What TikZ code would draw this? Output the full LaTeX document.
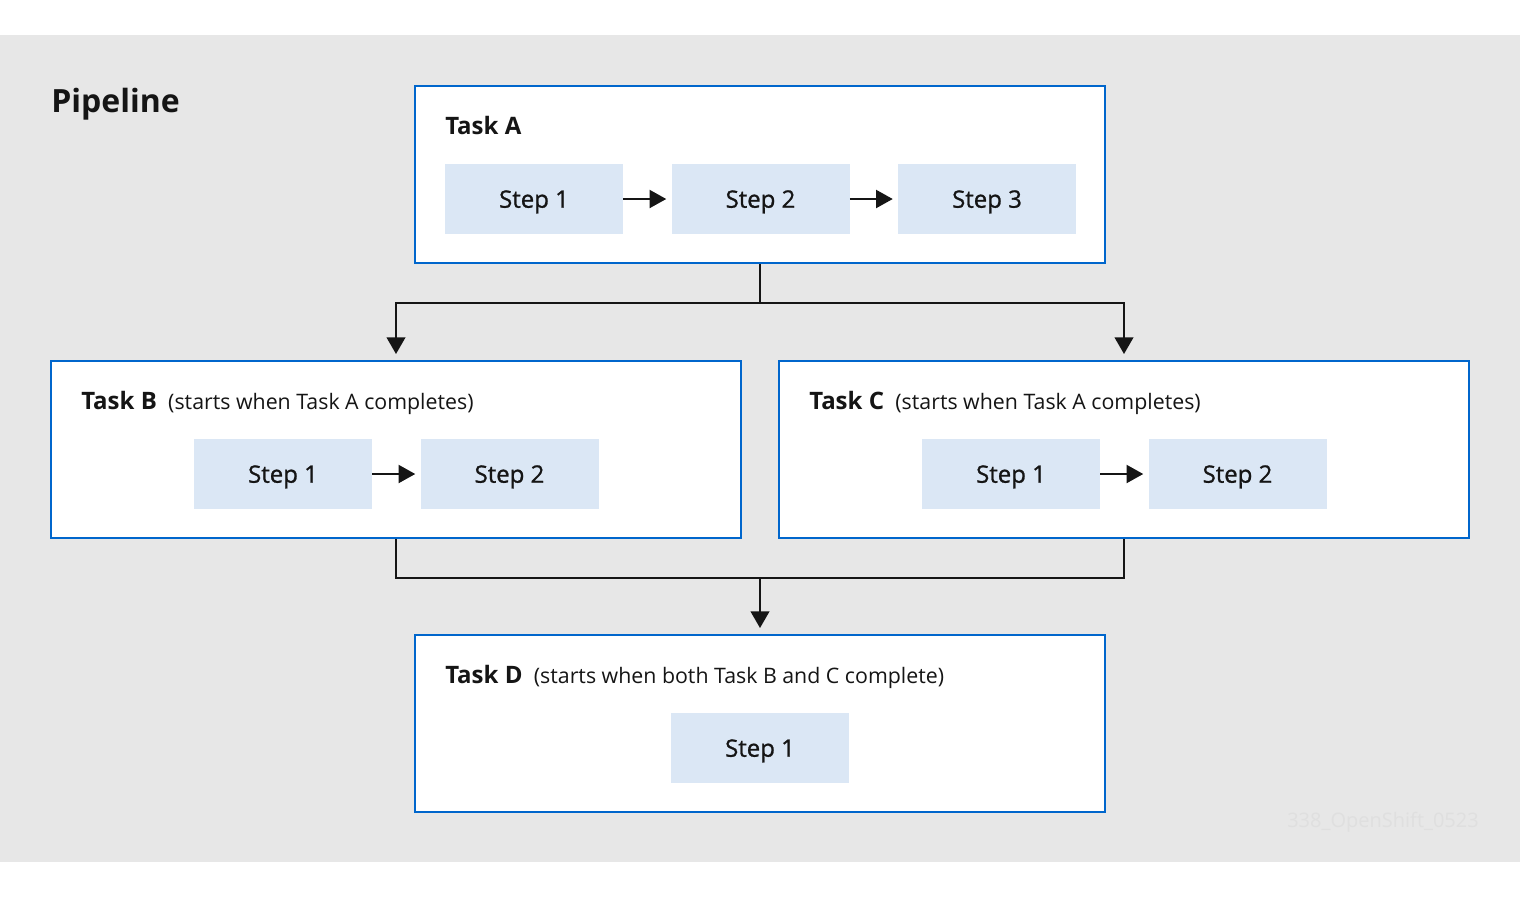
\documentclass[tikz,border=0pt]{standalone}
\usepackage{fontspec}
\usepackage{tikz}
\usetikzlibrary{arrows.meta}
\setmainfont{Open Sans}
\definecolor{bggray}{RGB}{231,231,231}
\definecolor{taskblue}{RGB}{0,102,204}
\definecolor{steplight}{RGB}{219,231,245}
\definecolor{inkblack}{RGB}{21,21,21}
\definecolor{markgray}{RGB}{223,223,223}
\newcommand{\taskname}[1]{{\fontsize{18}{21}\selectfont\bfseries #1}}

\begin{document}
\begin{tikzpicture}[x=0.75pt,y=0.75pt,yscale=-1,xscale=1,
  taskbox/.style={draw=taskblue,line width=1.5pt,fill=white,minimum width=517.5pt,minimum height=132.75pt,inner sep=0pt},
  stepbox/.style={fill=steplight,minimum width=133.5pt,minimum height=52.5pt,inner sep=0pt,text depth=0pt,text=inkblack,font=\fontsize{18}{21}\selectfont\addfontfeature{FakeBold=1}},
  tasklabel/.style={anchor=base west,inner sep=0pt,text=inkblack,font=\fontsize{16}{19}\selectfont},
  link/.style={draw=inkblack,line width=1.5pt},
  flow/.style={link,-{Triangle[length=12.5pt,width=14pt]},shorten >=4.5pt},
  stepflow/.style={link,-{Triangle[length=12.5pt,width=13.5pt]},shorten >=3.75pt}]
\useasboundingbox (0,0) rectangle (1520,904);
%Shape: Rectangle [background]
\fill[bggray] (0,35) rectangle (1520,862);

% Text Node
\node[anchor=base west,inner sep=0pt,text=inkblack,font=\fontsize{24}{28}\selectfont\bfseries] (pipeline) at (51,112) {Pipeline};

%Shape: Task boxes
\node[taskbox] (taskA) at (760,174.5) {};
\node[taskbox] (taskB) at (396,449.5) {};
\node[taskbox] (taskC) at (1124,449.5) {};
\node[taskbox] (taskD) at (760,723.5) {};

% Text Node
\node[tasklabel] (labelA) at (445,134.5) {\taskname{Task A}};
\node[tasklabel] (labelB) at (81,409) {\taskname{Task B}\hspace{8.5pt}(starts when Task A completes)};
\node[tasklabel] (labelC) at (809,409) {\taskname{Task C}\hspace{8.5pt}(starts when Task A completes)};
\node[tasklabel] (labelD) at (445,683) {\taskname{Task D}\hspace{8.5pt}(starts when both Task B and C complete)};

%Shape: Step boxes
\node[stepbox] (stepA1) at (534,199) {Step 1};
\node[stepbox] (stepA2) at (760.5,199) {Step 2};
\node[stepbox] (stepA3) at (987,199) {Step 3};
\node[stepbox] (stepB1) at (283,474) {Step 1};
\node[stepbox] (stepB2) at (509.5,474) {Step 2};
\node[stepbox] (stepC1) at (1011,474) {Step 1};
\node[stepbox] (stepC2) at (1237.5,474) {Step 2};
\node[stepbox] (stepD1) at (760,748) {Step 1};

%Straight Lines [steps]
\draw[stepflow] (stepA1) -- (stepA2);
\draw[stepflow] (stepA2) -- (stepA3);
\draw[stepflow] (stepB1) -- (stepB2);
\draw[stepflow] (stepC1) -- (stepC2);

%Straight Lines [tasks]
\coordinate (splitA) at (760,303);
\coordinate (joinD) at (760,578);
\draw[link] (taskA.south) -- (splitA);
\draw[flow] (splitA) -| (taskB.north);
\draw[flow] (splitA) -| (taskC.north);
\draw[link] (taskB.south) |- (joinD) -| (taskC.south);
\draw[flow] (joinD) -- (taskD.north);

% Text Node
\node[anchor=west,inner sep=0pt,text=markgray,font=\fontsize{15}{18}\selectfont] (mark) at (1287,822) {338\_OpenShift\_0523};

\end{tikzpicture}
\end{document}
